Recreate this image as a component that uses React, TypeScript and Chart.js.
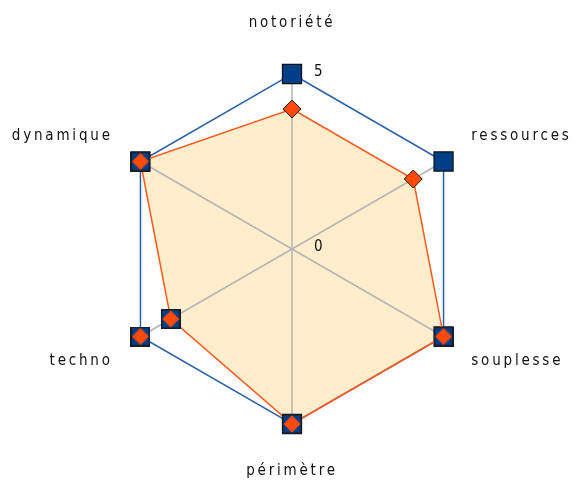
import React, { useEffect, useRef } from "react";
import { Chart, registerables } from "chart.js";

Chart.register(...registerables);

const categories = ["notoriété", "ressources", "souplesse", "périmètre", "techno", "dynamique"];
const seriesTarget = [5, 5, 5, 5, 5, 5];
const seriesScore = [4, 4, 5, 5, 4, 5];
const tickValues = [0, 5];
const tickLabels = ["0", "5"];

function makeComboMarker(): HTMLCanvasElement {
  const c = document.createElement("canvas");
  c.width = 20;
  c.height = 20;
  const g = c.getContext("2d")!;
  g.fillStyle = "#1a1a1a";
  g.fillRect(0, 0, 20, 20);
  g.fillStyle = "#003f88";
  g.fillRect(1.5, 1.5, 17, 17);
  g.fillStyle = "#ff4a0a";
  g.beginPath();
  g.moveTo(10, 1.5);
  g.lineTo(18.5, 10);
  g.lineTo(10, 18.5);
  g.lineTo(1.5, 10);
  g.closePath();
  g.fill();
  return c;
}

const letterSpacingPlugin = {
  id: "letterSpacing",
  beforeDraw(chart: any) {
    (chart.ctx as any).letterSpacing = "2.8px";
  },
  afterDraw(chart: any) {
    (chart.ctx as any).letterSpacing = "0px";
  },
};

const tickTextPlugin = {
  id: "tickText",
  afterDatasetsDraw(chart: any) {
    const scale = chart.scales.r;
    const ctx = chart.ctx;
    ctx.save();
    (ctx as any).letterSpacing = "0px";
    ctx.font = '15px "DejaVu Sans Condensed", "DejaVu Sans", sans-serif';
    ctx.fillStyle = "#111";
    ctx.textAlign = "left";
    ctx.textBaseline = "middle";
    tickValues.forEach((v, i) => {
      const p = scale.getPointPositionForValue(0, v);
      ctx.fillText(tickLabels[i], p.x + 22, p.y - 2);
    });
    ctx.restore();
  },
};

export default function App() {
  const ref = useRef<HTMLCanvasElement | null>(null);
  useEffect(() => {
    if (!ref.current) return;
    const combo = makeComboMarker();
    const chart = new Chart(ref.current, {
      type: "radar",
      data: {
        labels: categories,
        datasets: [
          {
            label: "score",
            data: seriesScore,
            borderColor: "#ff5a1f",
            borderWidth: 1.5,
            backgroundColor: "#ffedcb",
            fill: true,
            pointStyle: (ctx: any) => (ctx.dataIndex <= 1 ? "rectRot" : combo),
            pointRadius: 9,
            pointBackgroundColor: "#ff4a0a",
            pointBorderColor: "#1a1a1a",
            pointBorderWidth: 1,
          },
          {
            label: "cible",
            data: seriesTarget,
            borderColor: "#2a62a8",
            borderWidth: 1.5,
            fill: false,
            pointStyle: (ctx: any) => (ctx.dataIndex === 4 ? combo : "rect"),
            pointRadius: 13.5,
            pointBackgroundColor: "#003f88",
            pointBorderColor: "#111",
            pointBorderWidth: 1.2,
          },
        ],
      },
      options: {
        responsive: false,
        animation: false,
        layout: { padding: { top: 12, bottom: 4, left: 6, right: 0 } },
        plugins: {
          legend: { display: false },
          tooltip: { enabled: false },
          filler: { drawTime: "beforeDraw" },
        },
        scales: {
          r: {
            min: 0,
            max: 5,
            ticks: { display: false, stepSize: 5 },
            grid: { display: false },
            angleLines: { display: true, color: "#b4b4b4", lineWidth: 1.5 },
            pointLabels: {
              display: true,
              color: "#111",
              font: { family: '"DejaVu Sans Condensed", "DejaVu Sans", sans-serif', size: 15 },
              padding: (ctx: any) => (ctx.index === 0 ? 42 : ctx.index === 3 ? 38 : 32),
            },
          },
        },
      },
      plugins: [letterSpacingPlugin, tickTextPlugin],
    } as any);
    return () => chart.destroy();
  }, []);
  return (
    <div style={{ position: "fixed", left: 0, top: 0, width: 576, height: 486, background: "#fff" }}>
      <canvas ref={ref} width={576} height={486} />
    </div>
  );
}
